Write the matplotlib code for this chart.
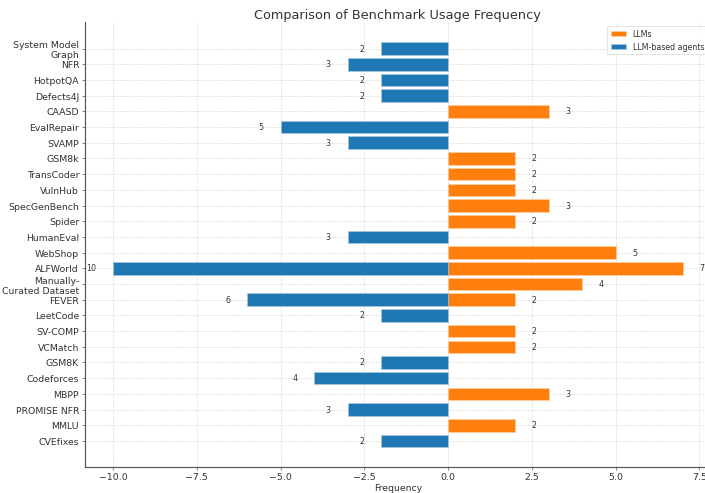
import matplotlib.pyplot as plt
import numpy as np

# benchmarks, listed top to bottom as in the chart
benchmarks = [
    "System Model\nGraph", "NFR", "HotpotQA", "Defects4J", "CAASD", "EvalRepair",
    "SVAMP", "GSM8k", "TransCoder", "VulnHub", "SpecGenBench", "Spider",
    "HumanEval", "WebShop", "ALFWorld", "Manually-\nCurated Dataset", "FEVER",
    "LeetCode", "SV-COMP", "VCMatch", "GSM8K", "Codeforces", "MBPP",
    "PROMISE NFR", "MMLU", "CVEfixes",
]
llm_counts = [0, 0, 0, 0, 3, 0, 0, 2, 2, 2, 3, 2, 0, 5, 7, 4, 2, 0, 2, 2, 0, 0, 3, 0, 2, 0]
agent_counts = [2, 3, 2, 2, 0, 5, 3, 0, 0, 0, 0, 0, 3, 0, 10, 0, 6, 2, 0, 0, 2, 4, 0, 3, 0, 2]

text_color = "#333333"

fig = plt.figure(figsize=(10, 7), dpi=70.5)
ax = fig.add_axes([0.1199, 0.0517, 0.8887, 0.9026])

y = np.arange(len(benchmarks))
llm = np.array(llm_counts)
agent = np.array(agent_counts)
m_llm = llm > 0
m_agent = agent > 0

ax.barh(y[m_llm], llm[m_llm], color="#ff7f0e", edgecolor="#ffd0a8", linewidth=0.6, label="LLMs", zorder=2)
ax.barh(y[m_agent], -agent[m_agent], color="#1f77b4", edgecolor="#a9c8e2", linewidth=0.6,
        label="LLM-based agents", zorder=2)

for yi, v in zip(y[m_llm], llm[m_llm]):
    ax.text(v + 0.5, yi, str(v), ha="left", va="center", fontsize=8, color=text_color)
for yi, v in zip(y[m_agent], agent[m_agent]):
    ax.text(-v - 0.5, yi, str(v), ha="right", va="center", fontsize=8, color=text_color)

ax.set_yticks(y)
ax.set_yticklabels(benchmarks, fontsize=9.6, color=text_color)
ax.invert_yaxis()
ax.set_xlim(-10.85, 7.85)
ax.tick_params(axis="x", labelsize=9.6, colors=text_color, pad=2.5)
ax.tick_params(axis="y", pad=2.5)
ax.tick_params(axis="both", length=3, color="#666666")

ax.set_xlabel("Frequency", fontsize=9.6, color=text_color, labelpad=2)
ax.set_title("Comparison of Benchmark Usage Frequency", fontsize=13.2, color=text_color, pad=4)

ax.grid(True, linestyle="--", linewidth=0.6, color="#d4d4d4", zorder=0)
ax.set_axisbelow(True)
for side in ("top", "right"):
    ax.spines[side].set_visible(False)
for side in ("left", "bottom"):
    ax.spines[side].set_color("#555555")
    ax.spines[side].set_linewidth(1.2)

leg = ax.legend(loc="upper right", fontsize=8, frameon=True, fancybox=False)
leg.get_frame().set_edgecolor("#dddddd")
for t in leg.get_texts():
    t.set_color(text_color)

fig.savefig("out.png", dpi=70.5)
